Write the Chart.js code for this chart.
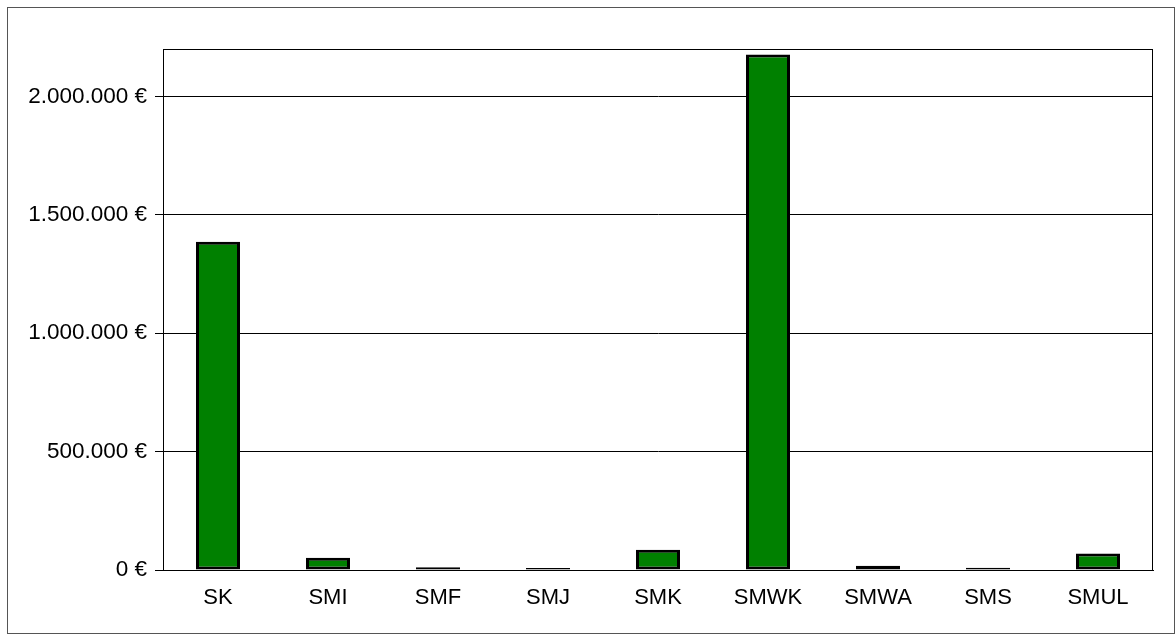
<!DOCTYPE html>
<html>
<head>
<meta charset="utf-8">
<script src="https://cdn.jsdelivr.net/npm/chart.js@4"></script>
<style>
    body { margin: 0; background: #fff; overflow: hidden; }
    #frame { position: absolute; left: 7px; top: 7px; width: 1168px; height: 627px; border: 1px solid #555; box-sizing: border-box; }
    #chart { position: absolute; left: 0; top: 0; }
</style>
</head>
<body>
<div id="frame"></div>
<canvas id="chart" width="1175" height="634"></canvas>
<script>
const categories = ["SK", "SMI", "SMF", "SMJ", "SMK", "SMWK", "SMWA", "SMS", "SMUL"];
const amounts = [1386000, 52000, 12000, 8000, 86000, 2177000, 18000, 9000, 70000];
const yTicks = [0, 500000, 1000000, 1500000, 2000000];
const yMax = 2200000;

function euro(v) {
    return String(v).replace(/\B(?=(\d{3})+(?!\d))/g, ".") + " €";
}

const boxPlugin = {
    id: "box",
    afterDraw(chart) {
        const a = chart.chartArea;
        const c = chart.ctx;
        c.save();
        c.strokeStyle = "#000";
        c.lineWidth = 1;
        c.strokeRect(a.left + 0.5, a.top + 0.5, a.right - a.left - 1, a.bottom - a.top);
        c.restore();
    }
};

document.addEventListener("DOMContentLoaded", function () {
    let ctx = document.getElementById("chart").getContext("2d");
    Chart.defaults.font.family = "'Liberation Sans', Arial, sans-serif";
    Chart.defaults.color = "#000";

    new Chart(ctx, {
        type: "bar",
        data: {
            labels: categories,
            datasets: [{
                data: amounts,
                backgroundColor: "#008000",
                borderColor: "#000",
                borderWidth: 3,
                borderSkipped: false,
                categoryPercentage: 1,
                barPercentage: 0.4
            }]
        },
        options: {
            responsive: false,
            animation: false,
            layout: { padding: { left: 0, top: 49, right: 22, bottom: 0 } },
            plugins: {
                legend: { display: false },
                tooltip: { enabled: false }
            },
            scales: {
                x: {
                    grid: { display: false, drawTicks: false },
                    border: { color: "#000" },
                    ticks: { font: { size: 22 }, padding: 15 },
                    afterFit(s) { s.height = 64; }
                },
                y: {
                    min: 0,
                    max: yMax,
                    grid: { color: "#000", tickLength: 8, tickColor: "#000" },
                    border: { color: "#000" },
                    ticks: {
                        font: { size: 22.5 },
                        padding: 8,
                        callback: v => euro(v)
                    },
                    afterBuildTicks(s) { s.ticks = yTicks.map(v => ({ value: v })); },
                    afterFit(s) { s.width = 163; }
                }
            }
        },
        plugins: [boxPlugin]
    });
});
</script>
</body>
</html>
